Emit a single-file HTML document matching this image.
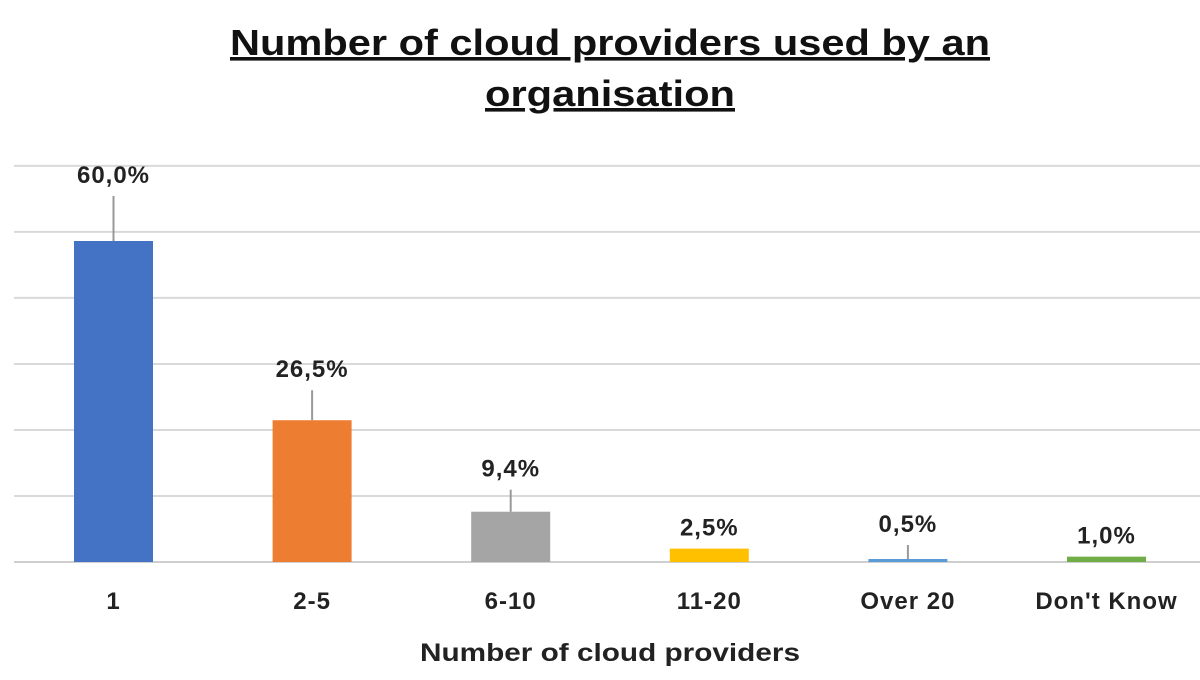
<!DOCTYPE html>
<html><head><meta charset="utf-8"><style>
body{margin:0;background:#fff;width:1200px;height:675px;overflow:hidden;font-family:"Liberation Sans",sans-serif}
</style></head><body>
<svg width="1200" height="675" xmlns="http://www.w3.org/2000/svg">
<text x="610" y="55" text-anchor="middle" font-size="36" font-weight="bold" fill="#111" text-decoration="underline" textLength="760" lengthAdjust="spacingAndGlyphs">Number of cloud providers used by an</text>
<text x="610" y="106" text-anchor="middle" font-size="36" font-weight="bold" fill="#111" text-decoration="underline" textLength="250" lengthAdjust="spacingAndGlyphs">organisation</text>
<g id="grid"></g><g id="bars"></g>
<text x="610" y="661" text-anchor="middle" font-size="25" font-weight="bold" fill="#222" textLength="380" lengthAdjust="spacingAndGlyphs">Number of cloud providers</text>
</svg>
<script>
const categories=["1","2-5","6-10","11-20","Over 20","Don't Know"];
const values=[60.0,26.5,9.4,2.5,0.5,1.0];
const labels=["60,0%","26,5%","9,4%","2,5%","0,5%","1,0%"];
const colors=["#4472c4","#ed7d31","#a5a5a5","#ffc000","#5b9bd5","#70ad47"];
const gridTicks=[0,12.34,24.68,37.02,49.36,61.7,74.04];
const NS="http://www.w3.org/2000/svg";
const y0=562,pxPer=5.35;
const leaderLens=[45,30,22,0,14,0];
function y(v){return y0-v*pxPer;}
function x(i){return 113.5+i*198.6;}
const g=document.getElementById('grid'),b=document.getElementById('bars');
function mk(tag,at,parent){const e=document.createElementNS(NS,tag);for(const k in at)e.setAttribute(k,at[k]);parent.appendChild(e);return e;}
gridTicks.forEach((t,i)=>{
 const l=mk('line',{x1:14,x2:1200,y1:y(t),y2:y(t),stroke:i==0?'#cfcfcf':'#d9d9d9','stroke-width':2},g);
 
 
});
values.forEach((v,i)=>{
 const h=Math.max(v*pxPer,3);
 const r=mk('rect',{x:x(i)-39.5,y:y0-h,width:79,height:h,fill:colors[i]},b);
 
 
 const top=y0-h;
 const lead=leaderLens[i];
 const ly=top-lead-13;
 if(lead){const ll=mk('line',{x1:x(i),x2:x(i),y1:top,y2:top-lead,stroke:'#999','stroke-width':2},b);
  
  }
 const t=mk('text',{x:x(i),y:ly,'text-anchor':'middle','font-size':24,'font-weight':'bold',fill:'#222','letter-spacing':1},b);
 t.textContent=labels[i];
 
 
 const c=mk('text',{x:x(i),y:609,'text-anchor':'middle','font-size':24,'font-weight':'bold',fill:'#222','letter-spacing':1},b);
 c.textContent=categories[i];
 
 
});
</script>
</body></html>
